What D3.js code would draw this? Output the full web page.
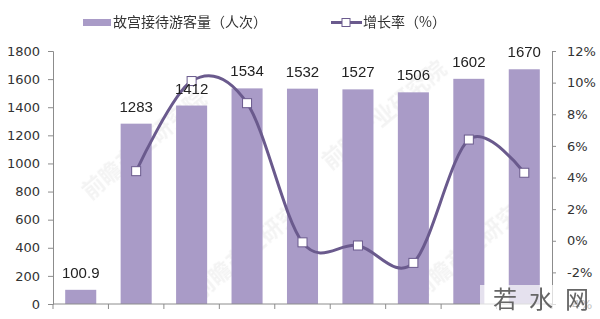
<!DOCTYPE html>
<html><head><meta charset="utf-8">
<script src="https://cdn.jsdelivr.net/npm/d3@7"></script>
<style>html,body{margin:0;padding:0;background:#fff;}svg{display:block;}</style>
</head><body>
<script>
const categories = ["2009","2010","2011","2012","2013","2014","2015","2016","2017"];
const visitors = [100.9, 1283, 1412, 1534, 1532, 1527, 1506, 1602, 1670];
const growth = [null, 4.4, 10.1, 8.7, -0.1, -0.3, -1.4, 6.4, 4.3];
const leftTicks = [0,200,400,600,800,1000,1200,1400,1600,1800];
const rightTicks = [-4,-2,0,2,4,6,8,10,12];
const seriesNames = ["故宫接待游客量（人次）", "增长率（%）"];

const W = 600, H = 319;
const m = {l: 53, r: 48, t: 51, b: 15};
const barColor = "#a99bc7", lineColor = "#6a5a8d", axisColor = "#8c8c8c";
const svg = d3.select("body").append("svg").attr("width", W).attr("height", H);

const x = d3.scaleBand().domain(categories).range([m.l, W - m.r]).paddingInner(0.44).paddingOuter(0.22);
const yL = d3.scaleLinear().domain([0, 1800]).range([H - m.b, m.t]);
const yR = d3.scaleLinear().domain([-4, 12]).range([H - m.b, m.t]);

// watermarks (faint)
const wm = svg.append("g").attr("fill", "#ececec").attr("font-family", "Noto Sans CJK SC").attr("font-size", 22).attr("font-weight", "bold").attr("opacity", 0.6);
[[90,200],[330,170],[200,300],[420,300]].forEach(([a,b]) => {
  wm.append("text").attr("transform", `translate(${a},${b}) rotate(-40)`).text("前瞻产业研究院");
});

// bars
svg.append("g").selectAll("rect").data(visitors).join("rect")
  .attr("x", (d,i) => x(categories[i])).attr("width", x.bandwidth())
  .attr("y", d => yL(d)).attr("height", d => yL(0) - yL(d)).attr("fill", barColor);

// axes
const axL = svg.append("g").attr("transform", `translate(${m.l},0)`)
  .call(d3.axisLeft(yL).tickValues(leftTicks).tickSize(5).tickPadding(8).tickFormat(d => String(d)));
const axR = svg.append("g").attr("transform", `translate(${W - m.r},0)`)
  .call(d3.axisRight(yR).tickValues(rightTicks).tickSize(4).tickPadding(11).tickFormat(d => d + "%"));
const xBounds = d3.range(categories.length + 1).map(i => m.l + i * (W - m.l - m.r) / categories.length);
const axB = svg.append("g").attr("transform", `translate(0,${yL(0)})`);
axB.append("line").attr("x1", m.l).attr("x2", W - m.r).attr("stroke", axisColor);
axB.selectAll("line.t").data(xBounds).join("line").attr("class","t")
  .attr("x1", d => d).attr("x2", d => d).attr("y1", 0).attr("y2", 5).attr("stroke", axisColor);
[axL, axR].forEach(a => {
  a.selectAll("path,line").attr("stroke", axisColor);
  a.selectAll("text").attr("font-family", "DejaVu Sans").attr("font-size", 13).attr("fill", "#333");
});

// line
const pts = growth.map((g,i) => ({g, i})).filter(d => d.g !== null);
const cx = i => x(categories[i]) + x.bandwidth() / 2;
svg.append("path").datum(pts)
  .attr("d", d3.line().x(d => cx(d.i)).y(d => yR(d.g)).curve(d3.curveCardinal.tension(0)))
  .attr("fill", "none").attr("stroke", lineColor).attr("stroke-width", 3);
svg.append("g").selectAll("rect").data(pts).join("rect")
  .attr("x", d => cx(d.i) - 4.5).attr("y", d => yR(d.g) - 4.5).attr("width", 9).attr("height", 9)
  .attr("fill", "#fff").attr("stroke", lineColor).attr("stroke-width", 1);

// bar labels
svg.append("g").selectAll("text").data(visitors).join("text")
  .attr("x", (d,i) => cx(i)).attr("y", d => yL(d) - 12)
  .attr("text-anchor", "middle").attr("font-family", "Liberation Sans").attr("font-size", 15).attr("fill", "#222")
  .text(d => d);

// legend
const lg = svg.append("g").attr("font-family", "Noto Sans CJK SC").attr("font-size", 14).attr("fill", "#333");
lg.append("rect").attr("x", 83).attr("y", 19).attr("width", 28).attr("height", 7).attr("fill", barColor);
lg.append("text").attr("x", 113).attr("y", 27).text(seriesNames[0]);
lg.append("line").attr("x1", 331).attr("x2", 362).attr("y1", 22.5).attr("y2", 22.5).attr("stroke", lineColor).attr("stroke-width", 3);
lg.append("rect").attr("x", 342).attr("y", 18.5).attr("width", 8).attr("height", 8).attr("fill", "#fff").attr("stroke", lineColor);
lg.append("text").attr("x", 363).attr("y", 27).text(seriesNames[1]);

// bottom-right watermark
svg.append("rect").attr("x", 480).attr("y", 285).attr("width", 120).attr("height", 34).attr("fill", "#fff").attr("opacity", 0.7);
svg.append("text").attr("x", 493).attr("y", 308).attr("font-family", "Noto Sans CJK SC").attr("font-size", 24)
  .attr("letter-spacing", 12).attr("fill", "#666").text("若水网");
</script>
</body></html>
